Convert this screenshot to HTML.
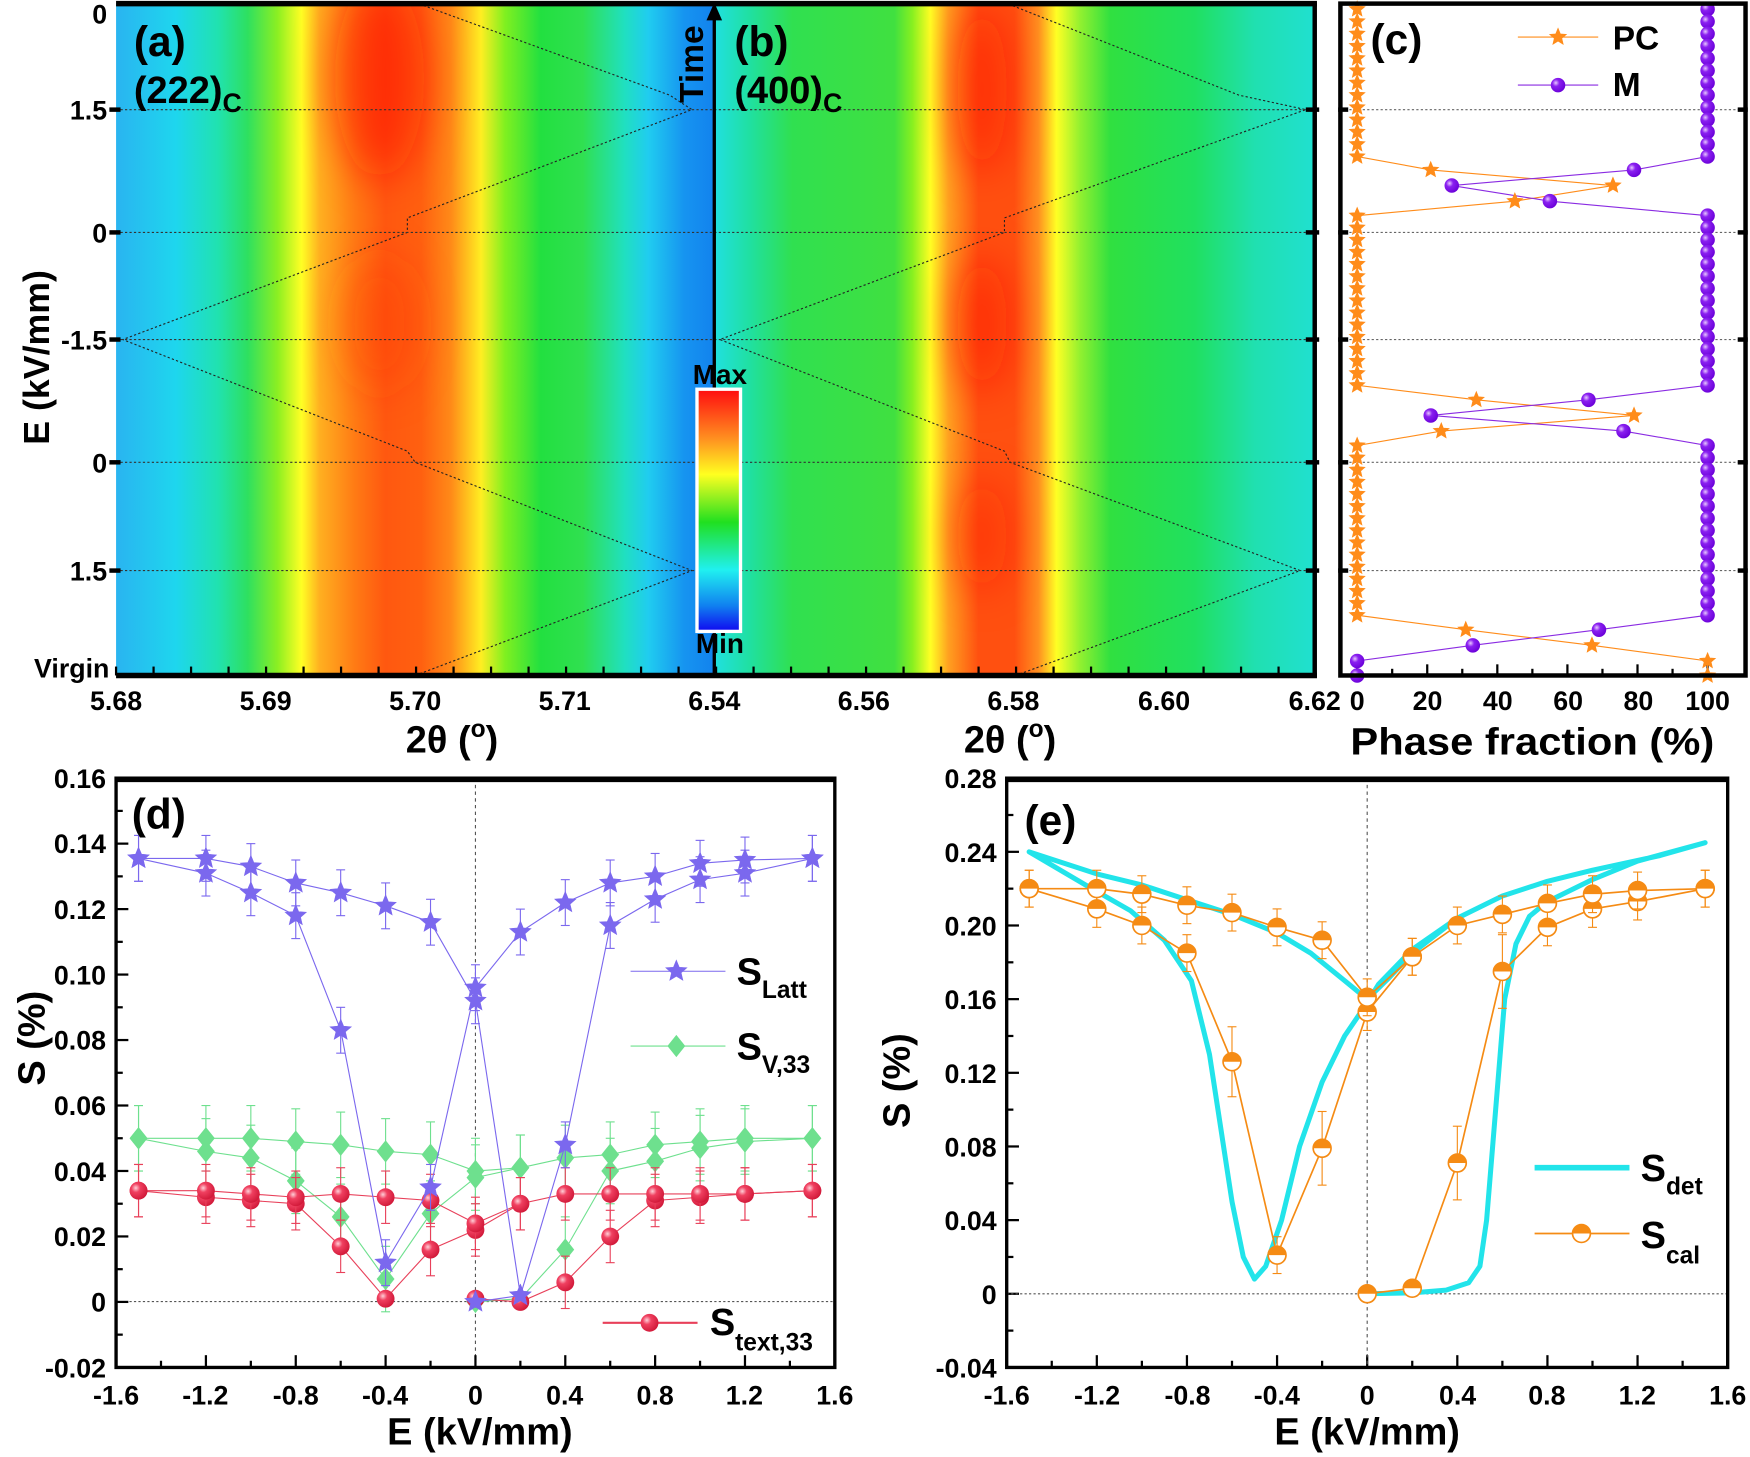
<!DOCTYPE html>
<html><head><meta charset="utf-8"><style>
html,body{margin:0;padding:0;background:#fff;}
svg{display:block;}
text{font-family:"Liberation Sans",Arial,sans-serif;font-weight:bold;fill:#000;}
</style></head><body>
<svg id="s" width="1750" height="1457" viewBox="0 0 1568 1305" xmlns="http://www.w3.org/2000/svg">
<defs>
<filter id="bl" x="-50%" y="-50%" width="200%" height="200%"><feGaussianBlur stdDeviation="18"/></filter>
<linearGradient id="ga" x1="0" x2="1" y1="0" y2="0">
<stop offset="0" stop-color="#2ab4f0"/><stop offset="0.1" stop-color="#1ed6ee"/><stop offset="0.17" stop-color="#20e2b0"/>
<stop offset="0.22" stop-color="#2ee060"/><stop offset="0.27" stop-color="#8cef22"/><stop offset="0.31" stop-color="#ffff24"/>
<stop offset="0.34" stop-color="#ffb020"/><stop offset="0.4" stop-color="#ff7a14"/><stop offset="0.45" stop-color="#ff5810"/>
<stop offset="0.51" stop-color="#ff6010"/><stop offset="0.56" stop-color="#ff8a18"/><stop offset="0.61" stop-color="#ffee22"/>
<stop offset="0.65" stop-color="#80f020"/><stop offset="0.71" stop-color="#22e040"/><stop offset="0.78" stop-color="#30e050"/>
<stop offset="0.85" stop-color="#20e0c0"/><stop offset="0.89" stop-color="#20ccf0"/><stop offset="0.95" stop-color="#1694f0"/><stop offset="1" stop-color="#1282ee"/>
</linearGradient>
<linearGradient id="gb" x1="0" x2="1" y1="0" y2="0">
<stop offset="0" stop-color="#20e0e0"/><stop offset="0.06" stop-color="#20e0a0"/><stop offset="0.13" stop-color="#30e050"/>
<stop offset="0.3" stop-color="#40e040"/><stop offset="0.33" stop-color="#88f020"/><stop offset="0.36" stop-color="#ffff24"/>
<stop offset="0.39" stop-color="#ffa020"/><stop offset="0.44" stop-color="#ff5010"/><stop offset="0.5" stop-color="#ff5010"/>
<stop offset="0.54" stop-color="#ff9020"/><stop offset="0.57" stop-color="#ffff24"/><stop offset="0.61" stop-color="#90f030"/>
<stop offset="0.66" stop-color="#30e040"/><stop offset="0.8" stop-color="#20e060"/><stop offset="0.9" stop-color="#20e0b0"/><stop offset="1" stop-color="#20e0d0"/>
</linearGradient>
<linearGradient id="gc" x1="0" x2="0" y1="0" y2="1">
<stop offset="0" stop-color="#ff1010"/><stop offset="0.2" stop-color="#ff9020"/><stop offset="0.35" stop-color="#ffff20"/>
<stop offset="0.55" stop-color="#20e020"/><stop offset="0.75" stop-color="#20f0f0"/><stop offset="0.9" stop-color="#1080f0"/><stop offset="1" stop-color="#1010f0"/>
</linearGradient>
<radialGradient id="gp" cx="0.35" cy="0.35" r="0.7"><stop offset="0" stop-color="#e8c8ff"/><stop offset="0.35" stop-color="#8a20f0"/><stop offset="1" stop-color="#6a00d8"/></radialGradient>
<radialGradient id="gr" cx="0.35" cy="0.35" r="0.7"><stop offset="0" stop-color="#ffd0d8"/><stop offset="0.35" stop-color="#f04060"/><stop offset="1" stop-color="#d01838"/></radialGradient>
<clipPath id="cab"><rect x="104" y="2" width="1074" height="603"/></clipPath>
</defs>
<!-- heatmaps -->
<rect x="104" y="2" width="536" height="603" fill="url(#ga)"/>
<rect x="640" y="2" width="538" height="603" fill="url(#gb)"/>
<g clip-path="url(#cab)" filter="url(#bl)">
<ellipse cx="340" cy="70" rx="40" ry="90" fill="#ff1808" opacity="0.6"/>
<ellipse cx="340" cy="290" rx="35" ry="60" fill="#ff2808" opacity="0.3"/>
<ellipse cx="880" cy="80" rx="22" ry="75" fill="#ff1808" opacity="0.6"/>
<ellipse cx="880" cy="290" rx="22" ry="60" fill="#ff1808" opacity="0.6"/>
<ellipse cx="880" cy="480" rx="22" ry="50" fill="#ff1808" opacity="0.45"/>
</g>
<g id="dyn"></g>
<!-- time arrow -->
<line x1="640" y1="605" x2="640" y2="14" stroke="#000" stroke-width="3"/>
<polygon points="633,18 647,18 640,2" fill="#000"/>
<text transform="translate(630,92) rotate(-90)" font-size="30">Time</text>
<!-- colorbar -->
<rect x="623" y="347" width="42" height="220" fill="#fff"/>
<rect x="626" y="350" width="36" height="214" fill="url(#gc)"/>
<text x="645" y="344" font-size="25" text-anchor="middle">Max</text>
<text x="645" y="585" font-size="25" text-anchor="middle">Min</text>
<!-- frames a/b -->
<line x1="104" y1="3" x2="1180" y2="3" stroke="#000" stroke-width="5"/>
<line x1="104" y1="605" x2="1180" y2="605" stroke="#000" stroke-width="5"/>
<line x1="1178" y1="2" x2="1178" y2="607" stroke="#000" stroke-width="4"/>
<rect x="1201" y="3" width="363" height="602" fill="none" stroke="#000" stroke-width="4"/>
<text x="120" y="50" font-size="38">(a)</text>
<text x="120" y="92" font-size="34">(222)<tspan font-size="24" dy="8">C</tspan></text>
<text x="658" y="50" font-size="38">(b)</text>
<text x="658" y="92" font-size="34">(400)<tspan font-size="24" dy="8">C</tspan></text>
<text x="1228" y="48" font-size="38">(c)</text>
<text x="1445" y="44" font-size="30">PC</text>
<text x="1445" y="86" font-size="30">M</text>
<g font-size="24" text-anchor="end">
<text x="96" y="21">0</text><text x="96" y="107">1.5</text><text x="96" y="217">0</text><text x="96" y="313">-1.5</text>
<text x="96" y="423">0</text><text x="96" y="520">1.5</text><text x="98" y="607">Virgin</text>
</g>
<g font-size="24" text-anchor="middle">
<text x="104" y="636">5.68</text><text x="238" y="636">5.69</text><text x="372" y="636">5.70</text><text x="506" y="636">5.71</text>
<text x="640" y="636">6.54</text><text x="774" y="636">6.56</text><text x="908" y="636">6.58</text><text x="1043" y="636">6.60</text><text x="1178" y="636">6.62</text>
<text x="1216" y="636">0</text><text x="1279" y="636">20</text><text x="1342" y="636">40</text><text x="1405" y="636">60</text><text x="1468" y="636">80</text><text x="1530" y="636">100</text>
</g>
<text x="405" y="674" font-size="34" text-anchor="middle">2θ (<tspan font-size="22" dy="-14">o</tspan><tspan dy="14">)</tspan></text>
<text x="905" y="674" font-size="34" text-anchor="middle">2θ (<tspan font-size="22" dy="-14">o</tspan><tspan dy="14">)</tspan></text>
<text x="1373" y="676" font-size="34" text-anchor="middle" textLength="326" lengthAdjust="spacingAndGlyphs">Phase fraction (%)</text>
<text transform="translate(44,320) rotate(-90)" font-size="32" text-anchor="middle">E (kV/mm)</text>
<!-- panel d/e frames -->
<rect x="104" y="697" width="644" height="528" fill="none" stroke="#000" stroke-width="3"/>
<rect x="902" y="697" width="646" height="528" fill="none" stroke="#000" stroke-width="3"/>
<line x1="104" y1="698" x2="748" y2="698" stroke="#000" stroke-width="5"/>
<line x1="902" y1="698" x2="1548" y2="698" stroke="#000" stroke-width="5"/>
<g font-size="24" text-anchor="end">
<text x="95" y="706">0.16</text><text x="95" y="764">0.14</text><text x="95" y="823">0.12</text><text x="95" y="882">0.10</text>
<text x="95" y="940">0.08</text><text x="95" y="999">0.06</text><text x="95" y="1058">0.04</text><text x="95" y="1116">0.02</text>
<text x="95" y="1175">0</text><text x="95" y="1234">-0.02</text>
<text x="893" y="706">0.28</text><text x="893" y="772">0.24</text><text x="893" y="838">0.20</text><text x="893" y="904">0.16</text>
<text x="893" y="970">0.12</text><text x="893" y="1036">0.08</text><text x="893" y="1102">0.04</text><text x="893" y="1168">0</text><text x="893" y="1234">-0.04</text>
</g>
<g font-size="24" text-anchor="middle">
<text x="104" y="1258">-1.6</text><text x="184" y="1258">-1.2</text><text x="265" y="1258">-0.8</text><text x="345" y="1258">-0.4</text><text x="426" y="1258">0</text>
<text x="506" y="1258">0.4</text><text x="587" y="1258">0.8</text><text x="667" y="1258">1.2</text><text x="748" y="1258">1.6</text>
<text x="902" y="1258">-1.6</text><text x="983" y="1258">-1.2</text><text x="1064" y="1258">-0.8</text><text x="1144" y="1258">-0.4</text><text x="1225" y="1258">0</text>
<text x="1306" y="1258">0.4</text><text x="1386" y="1258">0.8</text><text x="1467" y="1258">1.2</text><text x="1548" y="1258">1.6</text>
</g>
<text x="430" y="1294" font-size="34" text-anchor="middle">E (kV/mm)</text>
<text x="1225" y="1294" font-size="34" text-anchor="middle">E (kV/mm)</text>
<text transform="translate(40,930) rotate(-90)" font-size="34" text-anchor="middle">S (%)</text>
<text transform="translate(815,968) rotate(-90)" font-size="34" text-anchor="middle">S (%)</text>
<text x="118" y="742" font-size="38">(d)</text>
<text x="918" y="748" font-size="38">(e)</text>
<text x="660" y="882" font-size="34">S<tspan font-size="22" dy="12">Latt</tspan></text>
<text x="660" y="949" font-size="34">S<tspan font-size="22" dy="12">V,33</tspan></text>
<text x="636" y="1196" font-size="34">S<tspan font-size="22" dy="14">text,33</tspan></text>
<text x="1470" y="1058" font-size="34">S<tspan font-size="22" dy="12">det</tspan></text>
<text x="1470" y="1118" font-size="34">S<tspan font-size="22" dy="14">cal</tspan></text>
</svg>
<script>
const NS='http://www.w3.org/2000/svg';
const g=document.getElementById('dyn');
function el(t,a){const e=document.createElementNS(NS,t);for(const k in a)e.setAttribute(k,a[k]);g.appendChild(e);return e;}
function star(cx,cy,r,fill){let p=[];for(let i=0;i<10;i++){const a=-Math.PI/2+i*Math.PI/5;const rr=i%2?r*0.45:r;p.push((cx+rr*Math.cos(a)).toFixed(1)+','+(cy+rr*Math.sin(a)).toFixed(1));}el('polygon',{points:p.join(' '),fill:fill,stroke:fill,'stroke-width':0.5});}
function line(x1,y1,x2,y2,c,w,extra){const a={x1,y1,x2,y2,stroke:c,'stroke-width':w};Object.assign(a,extra||{});el('line',a);}
function pl(pts,c,w,extra){const a={points:pts.map(p=>p[0].toFixed(1)+','+p[1].toFixed(1)).join(' '),fill:'none',stroke:c,'stroke-width':w};Object.assign(a,extra||{});el('polyline',a);}
pl([[372,2],[600,85],[620,98],[365,195],[365,208],[110,304],[365,404],[372,414],[620,511],[372,605]],'#222',1,{'stroke-dasharray':'2,2'});
pl([[900,2],[1110,85],[1170,98],[900,195],[900,208],[645,304],[900,404],[905,414],[1165,511],[910,605]],'#222',1,{'stroke-dasharray':'2,2'});
[98,208,304,414,511].forEach(y=>{line(104,y,1178,y,'#333',1,{'stroke-dasharray':'2,2'});line(1201,y,1564,y,'#666',1,{'stroke-dasharray':'2,2'});
 line(1170,y,1182,y,'#000',4);line(1199,y,1208,y,'#000',4);line(1557,y,1566,y,'#000',4);line(98,y,108,y,'#000',4);});
for(let x=104;x<=1178;x+=33.6){line(x,605,x,597,'#000',2);}
for(let i=0;i<=10;i++){const x=1216+i*31.4;line(x,605,x,i%2?599:595,'#000',2);}
const xc=v=>1216+v*3.14;
let rows=[];
for(let i=0;i<13;i++)rows.push([8+i*11,0,100]);
rows.push([152,21,79],[166,73,27],[180,45,55]);
for(let i=0;i<15;i++)rows.push([193+i*10.86,0,100]);
rows.push([358,34,66],[372,79,21],[386,24,76]);
for(let i=0;i<15;i++)rows.push([399+i*10.86,0,100]);
rows.push([564,31,69],[578,67,33],[592,100,0],[605,100,0]);
pl(rows.map(r=>[xc(r[1]),r[0]]),'#ff8c1a',1);
pl(rows.map(r=>[xc(r[2]),r[0]]),'#8a2be2',1);
rows.forEach(r=>{star(xc(r[1]),r[0],7.5,'#ff8c1a');});
rows.forEach(r=>{el('circle',{cx:xc(r[2]),cy:r[0],r:6.5,fill:'url(#gp)'});});
line(1360,33,1432,33,'#ff8c1a',1);star(1396,33,8,'#ff8c1a');
line(1360,76,1432,76,'#8a2be2',1);el('circle',{cx:1396,cy:76,r:6.5,fill:'url(#gp)'});
const xd=E=>426+E*201.25, yd=v=>697+(0.16-v)*2933.3;
line(426,697,426,1225,'#555',1,{'stroke-dasharray':'3,3'});
line(104,1166,748,1166,'#555',1,{'stroke-dasharray':'2,2'});
for(let i=0;i<=16;i++){const x=104+i*40.25;line(x,1225,x,i%2?1219:1214,'#000',2);}
for(let i=0;i<=18;i++){const y=697+i*29.33;line(104,y,i%2?110:115,y,'#000',2);}
for(let i=0;i<=16;i++){const y=697+i*33;line(902,y,i%2?908:913,y,'#000',2);}
for(let i=0;i<=16;i++){const x=902+i*40.375;line(x,1225,x,i%2?1219:1214,'#000',2);}
function series(br,c,err,mk){
 br.forEach(b=>pl(b.map(p=>[xd(p[0]),yd(p[1])]),c,1));
 br.forEach(b=>b.forEach(p=>{const x=xd(p[0]),y=yd(p[1]);if(p[1]>0.003){line(x,yd(p[1]+err),x,yd(p[1]-err),c,1);line(x-4,yd(p[1]+err),x+4,yd(p[1]+err),c,1);line(x-4,yd(p[1]-err),x+4,yd(p[1]-err),c,1);}mk(x,y);}));
}
const V=[[[0,0],[0.2,0.001],[0.4,0.016],[0.6,0.040],[0.8,0.043],[1.0,0.047],[1.2,0.049],[1.5,0.050]],
[[1.5,0.050],[1.2,0.050],[1.0,0.049],[0.8,0.048],[0.6,0.045],[0.4,0.044],[0.2,0.041],[0,0.038],[-0.2,0.027],[-0.4,0.007],[-0.6,0.026],[-0.8,0.037],[-1.0,0.044],[-1.2,0.046],[-1.5,0.050]],
[[-1.5,0.050],[-1.2,0.050],[-1.0,0.050],[-0.8,0.049],[-0.6,0.048],[-0.4,0.046],[-0.2,0.045],[0,0.040],[0.2,0.041]]];
series(V,'#6ee08e',0.01,(x,y)=>el('polygon',{points:`${x},${y-10} ${x+8},${y} ${x},${y+10} ${x-8},${y}`,fill:'#6ee08e'}));
const R=[[[0,0.001],[0.2,0.000],[0.4,0.006],[0.6,0.020],[0.8,0.031],[1.0,0.032],[1.2,0.033],[1.5,0.034]],
[[1.5,0.034],[1.2,0.033],[1.0,0.033],[0.8,0.033],[0.6,0.033],[0.4,0.033],[0.2,0.030],[0,0.022],[-0.2,0.016],[-0.4,0.001],[-0.6,0.017],[-0.8,0.030],[-1.0,0.031],[-1.2,0.032],[-1.5,0.034]],
[[-1.5,0.034],[-1.2,0.034],[-1.0,0.033],[-0.8,0.032],[-0.6,0.033],[-0.4,0.032],[-0.2,0.031],[0,0.024],[0.2,0.030]]];
series(R,'#e8405a',0.008,(x,y)=>el('circle',{cx:x,cy:y,r:8,fill:'url(#gr)'}));
const L=[[[0,0],[0.2,0.002],[0.4,0.048],[0.6,0.115],[0.8,0.123],[1.0,0.129],[1.2,0.131],[1.5,0.1355]],
[[1.5,0.1355],[1.2,0.135],[1.0,0.134],[0.8,0.130],[0.6,0.128],[0.4,0.122],[0.2,0.113],[0,0.096],[-0.2,0.035],[-0.4,0.012],[-0.6,0.083],[-0.8,0.118],[-1.0,0.125],[-1.2,0.131],[-1.5,0.1355]],
[[-1.5,0.1355],[-1.2,0.1355],[-1.0,0.133],[-0.8,0.128],[-0.6,0.125],[-0.4,0.121],[-0.2,0.116],[0,0.092],[0.2,0.002]]];
series(L,'#7b68ee',0.007,(x,y)=>star(x,y,10,'#7b68ee'));
line(565,870,650,870,'#7b68ee',1);star(606,870,10,'#7b68ee');
line(565,937,650,937,'#6ee08e',1);el('polygon',{points:'606,927 614,937 606,947 598,937',fill:'#6ee08e'});
line(540,1185,625,1185,'#e8405a',2);el('circle',{cx:582,cy:1185,r:8,fill:'url(#gr)'});
const xe=E=>1225+E*201.9, ye=v=>697+(0.28-v)*1650;
line(1225,697,1225,1225,'#555',1,{'stroke-dasharray':'3,3'});
line(902,1159,1548,1159,'#555',1,{'stroke-dasharray':'2,2'});
const det=[[0,0],[0.2,0.0005],[0.35,0.002],[0.45,0.006],[0.5,0.015],[0.53,0.04],[0.57,0.1],[0.61,0.16],[0.66,0.19],[0.72,0.205],[0.8,0.213],[1.0,0.225],[1.2,0.235],[1.5,0.245],
[1.3,0.238],[1.0,0.230],[0.8,0.224],[0.6,0.216],[0.4,0.204],[0.2,0.187],[0.05,0.168],[0,0.158],[-0.1,0.14],[-0.2,0.115],[-0.3,0.08],[-0.38,0.04],[-0.45,0.015],[-0.5,0.008],[-0.55,0.02],[-0.6,0.05],[-0.65,0.09],[-0.7,0.13],[-0.78,0.17],[-0.9,0.192],[-1.05,0.208],[-1.25,0.222],[-1.5,0.240],
[-1.2,0.228],[-1.0,0.222],[-0.8,0.214],[-0.6,0.206],[-0.4,0.196],[-0.25,0.185],[-0.1,0.17],[0,0.16],[0.1,0.172],[0.2,0.185],[0.4,0.204]];
pl(det.map(p=>[xe(p[0]),ye(p[1])]),'#22e4ea',4.5,{'stroke-linejoin':'round'});
const C=[[[0,0],[0.2,0.003],[0.4,0.071],[0.6,0.175],[0.8,0.199],[1.0,0.209],[1.2,0.213],[1.5,0.220]],
[[1.5,0.220],[1.2,0.219],[1.0,0.217],[0.8,0.212],[0.6,0.206],[0.4,0.200],[0.2,0.183],[0,0.153],[-0.2,0.079],[-0.4,0.021],[-0.6,0.126],[-0.8,0.185],[-1.0,0.200],[-1.2,0.209],[-1.5,0.220]],
[[-1.5,0.220],[-1.2,0.220],[-1.0,0.217],[-0.8,0.211],[-0.6,0.207],[-0.4,0.199],[-0.2,0.192],[0,0.161],[0.2,0.183]]];
const errs={'-0.6':0.019,'0.6':0.02,'0.4':0.02,'-0.2':0.02};
function halfc(x,y){el('circle',{cx:x,cy:y,r:8,fill:'#fff',stroke:'#f58b14','stroke-width':1.5});el('path',{d:`M${x-8},${y} A8,8 0 0 1 ${x+8},${y} Z`,fill:'#f58b14'});}
C.forEach(b=>pl(b.map(p=>[xe(p[0]),ye(p[1])]),'#f58b14',1.5));
C.forEach(b=>b.forEach(p=>{const x=xe(p[0]),y=ye(p[1]);const e=errs[String(p[0])]&&p[1]>0.05&&p[1]<0.19?errs[String(p[0])]:0.01;if(p[1]>0.005){line(x,ye(p[1]+e),x,ye(p[1]-e),'#f58b14',1);line(x-4,ye(p[1]+e),x+4,ye(p[1]+e),'#f58b14',1);line(x-4,ye(p[1]-e),x+4,ye(p[1]-e),'#f58b14',1);}halfc(x,y);}));
line(1375,1046,1460,1046,'#22e4ea',5);
line(1375,1105,1460,1105,'#f58b14',1.5);halfc(1417,1105);
</script>
</body></html>
